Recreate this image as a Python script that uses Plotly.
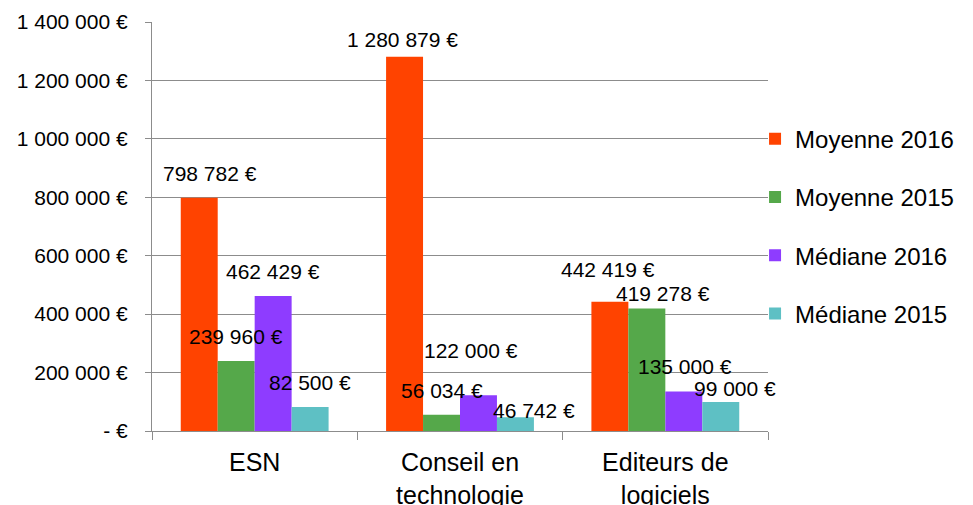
import plotly.graph_objects as go

categories = ["ESN", "Conseil en<br>technologie", "Editeurs de<br>logiciels"]
series_names = ["Moyenne 2016", "Moyenne 2015", "Médiane 2016", "Médiane 2015"]
moyenne_2016 = [798782, 1280879, 442419]
moyenne_2015 = [239960, 56034, 419278]
mediane_2016 = [462429, 122000, 135000]
mediane_2015 = [82500, 46742, 99000]
y_tickvals = [0, 200000, 400000, 600000, 800000, 1000000, 1200000, 1400000]
y_ticktext = ["- €", "200 000 €", "400 000 €", "600 000 €", "800 000 €",
              "1 000 000 €", "1 200 000 €", "1 400 000 €"]

series_values = [moyenne_2016, moyenne_2015, mediane_2016, mediane_2015]
colors = ["#FF4300", "#55A84A", "#8E3CFF", "#5EC0C4"]

# label pixel offsets (styling), [series][category]
label_dx = [[11, -2, -2], [0, 0, 16], [0, -7, 1], [0, 19, 14]]
label_dy = [[24, 17, 32], [24, 24, 15], [24, 45, 25], [24, 7, 14]]

def fmt(v):
    return f"{v:,}".replace(",", " ") + " €"

bargap = 0.28
n = len(series_values)
w = (1 - bargap) / n

fig = go.Figure()
for i, (name, vals) in enumerate(zip(series_names, series_values)):
    fig.add_trace(go.Bar(
        x=categories, y=vals, name=name, legendgroup=name,
        marker=dict(color=colors[i], line=dict(width=0)),
    ))
    for j, v in enumerate(vals):
        fig.add_annotation(
            x=j + (i - (n - 1) / 2) * w, y=v, xref="x", yref="y",
            text=fmt(v), showarrow=False, yanchor="middle", xanchor="center",
            xshift=label_dx[i][j], yshift=label_dy[i][j],
            font=dict(size=21, color="#000000", family="Liberation Sans, Arial"),
        )

fig.update_layout(
    width=973, height=505,
    margin=dict(l=152, r=205, t=22, b=74, autoexpand=False),
    paper_bgcolor="white", plot_bgcolor="white",
    barmode="group", bargap=bargap, bargroupgap=0,
    font=dict(family="Liberation Sans, Arial", color="#000000"),
    showlegend=True,
    legend=dict(xref="container", yref="container", x=0.776, y=0.552,
                xanchor="left", yanchor="middle",
                font=dict(size=24), tracegroupgap=24, traceorder="grouped",
                bgcolor="rgba(0,0,0,0)"),
    xaxis=dict(
        range=[-0.5, 2.5],
        showline=True, linecolor="#8c8c8c", linewidth=1.3,
        ticks="outside", tickson="boundaries", ticklen=8, tickcolor="#8c8c8c",
        tickfont=dict(size=25), ticklabelstandoff=9, automargin=False,
        showgrid=False,
    ),
    yaxis=dict(
        range=[0, 1400000], tickvals=y_tickvals, ticktext=y_ticktext,
        showline=True, linecolor="#8c8c8c", linewidth=1.3,
        ticks="outside", ticklen=6, tickcolor="#8c8c8c",
        showgrid=True, gridcolor="#8c8c8c", gridwidth=1.3,
        tickfont=dict(size=21), ticklabelstandoff=13, zeroline=False,
        automargin=False,
    ),
)

fig.write_html("out.html", config={"displayModeBar": False},
               post_script="document.body.style.margin='0';document.body.style.overflow='hidden';")
